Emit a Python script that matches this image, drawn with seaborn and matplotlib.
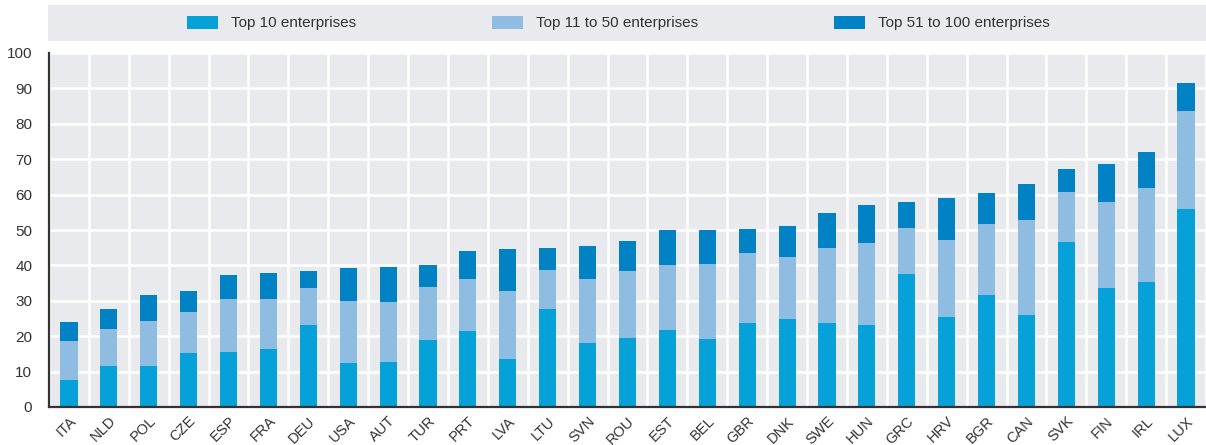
import pandas as pd
import matplotlib.pyplot as plt
import matplotlib.patches as mpatches
import seaborn as sns

# Countries, sorted by total share of top 100 enterprises
countries = ["ITA", "NLD", "POL", "CZE", "ESP", "FRA", "DEU", "USA", "AUT", "TUR",
             "PRT", "LVA", "LTU", "SVN", "ROU", "EST", "BEL", "GBR", "DNK", "SWE",
             "HUN", "GRC", "HRV", "BGR", "CAN", "SVK", "FIN", "IRL", "LUX"]
top10 = [7.5, 11.7, 11.5, 15.3, 15.6, 16.3, 23.1, 12.3, 12.6, 18.9,
         21.5, 13.5, 27.6, 18.1, 19.4, 21.8, 19.1, 23.6, 24.8, 23.7,
         23.1, 37.5, 25.4, 31.6, 25.9, 46.5, 33.6, 35.2, 55.8]
top11_50 = [11.1, 10.3, 12.7, 11.5, 14.8, 14.1, 10.5, 17.6, 17.1, 14.9,
            14.7, 19.4, 11.1, 18.1, 19.0, 18.2, 21.4, 19.8, 17.7, 21.2,
            23.2, 13.2, 21.9, 20.0, 27.0, 14.3, 24.4, 26.6, 27.8]
top51_100 = [5.3, 5.8, 7.4, 5.9, 6.8, 7.5, 4.9, 9.5, 9.8, 6.2,
             7.9, 11.6, 6.3, 9.4, 8.6, 10.0, 9.5, 6.9, 8.5, 9.8,
             10.9, 7.3, 11.7, 8.9, 10.2, 6.5, 10.7, 10.3, 7.8]
labels = ["Top 10 enterprises", "Top 11 to 50 enterprises", "Top 51 to 100 enterprises"]
colors = ["#05a1d8", "#8fbde2", "#0082c4"]

df = pd.DataFrame({"country": countries, "t10": top10, "t50": top11_50, "t100": top51_100})
df["cum50"] = df["t10"] + df["t50"]
df["cum100"] = df["cum50"] + df["t100"]

sns.set_style("white")
plt.rcParams["font.family"] = ["Liberation Sans", "DejaVu Sans"]
text_col = "#333333"

fig = plt.figure(figsize=(12.06, 4.45), dpi=100)
ax = fig.add_axes([49 / 1206, 1 - 407 / 445, 1 - 49 / 1206, 354 / 445])
ax.set_facecolor("#e9eaed")

# stacked bars by overlaying cumulative totals
for col, c in zip(["cum100", "cum50", "t10"], [colors[2], colors[1], colors[0]]):
    sns.barplot(data=df, x="country", y=col, order=countries, color=c,
                saturation=1, width=0.43, linewidth=0, ax=ax, zorder=3)

ax.set_xlim(-0.5, len(countries) - 0.5)
ax.set_ylim(0, 100)
ax.set_yticks(range(0, 101, 10))
ax.set_xticks([i - 0.5 for i in range(len(countries) + 1)], minor=True)
ax.set_xlabel("")
ax.set_ylabel("")

ax.grid(axis="y", which="major", color="white", lw=1.8, zorder=0)
ax.grid(axis="x", which="minor", color="white", lw=1.8, zorder=0)
ax.set_axisbelow(True)

for s in ["top", "right"]:
    ax.spines[s].set_visible(False)
for s in ["left", "bottom"]:
    ax.spines[s].set_color("#333333")
    ax.spines[s].set_linewidth(1.6)
    ax.spines[s].set_zorder(5)

ax.tick_params(axis="x", which="major", length=0, pad=5)
ax.tick_params(axis="x", which="minor", direction="in", length=5, width=1.3, color="#333333")
ax.tick_params(axis="y", direction="in", length=5, width=1.3, color="#333333",
               labelsize=11, labelcolor=text_col, pad=12)
plt.setp(ax.get_xticklabels(), rotation=45, ha="right", rotation_mode="anchor",
         fontsize=10.5, color=text_col)

# legend band across the top
band = mpatches.Rectangle((48 / 1206, 1 - 41 / 445), 1 - 48 / 1206, 36 / 445,
                          transform=fig.transFigure, facecolor="#e9eaed",
                          edgecolor="none", zorder=0)
fig.patches.append(band)
handles = [mpatches.Patch(facecolor=c, edgecolor="none") for c in colors]
fig.legend(handles, labels, loc="center", ncol=3, frameon=False,
           bbox_to_anchor=(0.513, 1 - 23 / 445), fontsize=11,
           handlelength=2.03, handleheight=0.92, handletextpad=0.85,
           columnspacing=8.9, labelcolor=text_col)

fig.savefig("out.png", dpi=100)
